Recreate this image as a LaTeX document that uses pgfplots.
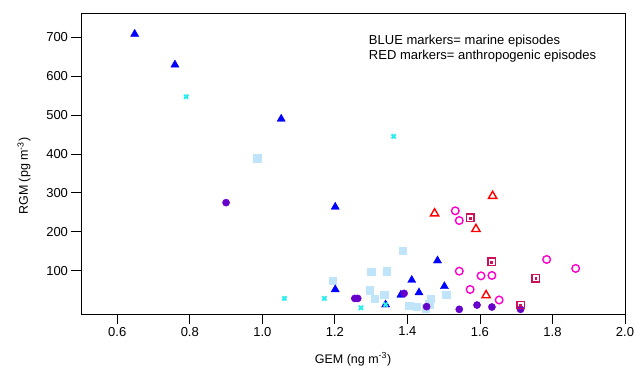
\documentclass[border=0pt]{standalone}
\usepackage{pgfplots}
\pgfplotsset{compat=1.18}
\usepackage{fontspec}
\setmainfont{Liberation Sans}
\definecolor{mblue}{RGB}{0,0,255}
\definecolor{mcyan}{RGB}{40,238,238}
\definecolor{mlight}{RGB}{192,228,250}
\definecolor{mpurple}{RGB}{104,0,204}
\definecolor{ared}{RGB}{255,0,0}
\definecolor{amag}{RGB}{255,0,204}
\definecolor{acrim}{RGB}{204,17,90}
\begin{document}
\begin{tikzpicture}
\path[use as bounding box] (-81bp,-52bp) rectangle (554bp,314bp);
\begin{axis}[
  at={(0,0)}, anchor=south west,
  scale only axis, width=544bp, height=301bp,
  xmin=0.5, xmax=2.0, ymin=-11, ymax=762,
  xtick={0.6,0.8,1.0,1.2,1.4,1.6,1.8,2.0},
  ytick={100,200,300,400,500,600,700},
  xticklabel style={/pgf/number format/.cd,fixed,fixed zerofill,precision=1},
  /pgf/number format/assume math mode=true,
  tick align=outside, xtick pos=bottom, ytick pos=left,
  major tick length=9.5bp,
  tick style={black, line width=0.8bp},
  axis line style={black, line width=0.8bp},
  tick label style={font=\fontsize{13bp}{15bp}\selectfont},
  xlabel={GEM (ng m\textsuperscript{-3})},
  ylabel={RGM (pg m\textsuperscript{-3})},
  every axis x label/.style={at={(axis description cs:0.5,0)}, anchor=base, yshift=-49bp, font=\fontsize{12.5bp}{15bp}\selectfont},
  every axis y label/.style={at={(axis description cs:-0.1048,0.458)}, rotate=90, anchor=center, font=\fontsize{12.5bp}{15bp}\selectfont},
  clip=false,
]
% light blue squares
\addplot[only marks, mark=square*, mark size=3.6bp, color=mlight, mark options={draw=mlight, fill=mlight}] coordinates {
(0.986,389) (1.387,151) (1.193,74) (1.300,97) (1.342,99) (1.296,50) (1.310,29)
(1.336,38) (1.405,11) (1.425,7) (1.451,4) (1.460,14) (1.464,29) (1.507,38)};
% blue triangles
\addplot[only marks, mark=triangle*, mark size=4.7bp, color=mblue] coordinates {
(0.648,708) (0.759,629) (1.052,490) (1.201,264) (1.201,52) (1.412,76) (1.483,126)
(1.432,44) (1.382,38) (1.502,60) (1.340,13)};
% cyan crosses
\addplot[only marks, mark=x, mark size=2.9bp, color=mcyan, mark options={line width=2bp}] coordinates {
(0.790,547) (1.362,445) (1.061,29) (1.171,29) (1.272,5) (1.340,13)};
% purple circles
\addplot[only marks, mark=*, mark size=3.6bp, color=mpurple] coordinates {
(0.900,275) (1.255,29) (1.263,29) (1.391,42) (1.453,8) (1.543,1) (1.592,12) (1.633,7) (1.712,1)};
% red open triangles
\addplot[only marks, mark=triangle, mark size=4.8bp, color=ared, mark options={line width=1.4bp}] coordinates {
(1.635,292) (1.475,247) (1.589,207) (1.617,37)};
% magenta open circles
\addplot[only marks, mark=o, mark size=3.8bp, color=amag, mark options={line width=1.4bp}] coordinates {
(1.532,254) (1.543,229) (1.543,99) (1.603,87) (1.633,88) (1.573,52) (1.653,25) (1.784,129) (1.864,106)};
% crimson squares with dot
\addplot[only marks, mark=square, mark size=3.7bp, color=acrim, mark options={line width=1.4bp}] coordinates {
(1.573,236) (1.632,123) (1.754,81) (1.712,12)};
\addplot[only marks, mark=square*, mark size=0.9bp, color=acrim] coordinates {
(1.573,236) (1.632,123) (1.754,81) (1.712,12)};
\node[anchor=base west, font=\fontsize{13bp}{15bp}\selectfont, inner sep=0pt] at (axis description cs:0.529,0.894) {BLUE markers= marine episodes};
\node[anchor=base west, font=\fontsize{13bp}{15bp}\selectfont, inner sep=0pt] at (axis description cs:0.529,0.8465) {RED markers= anthropogenic episodes};
\end{axis}
\end{tikzpicture}
\end{document}
